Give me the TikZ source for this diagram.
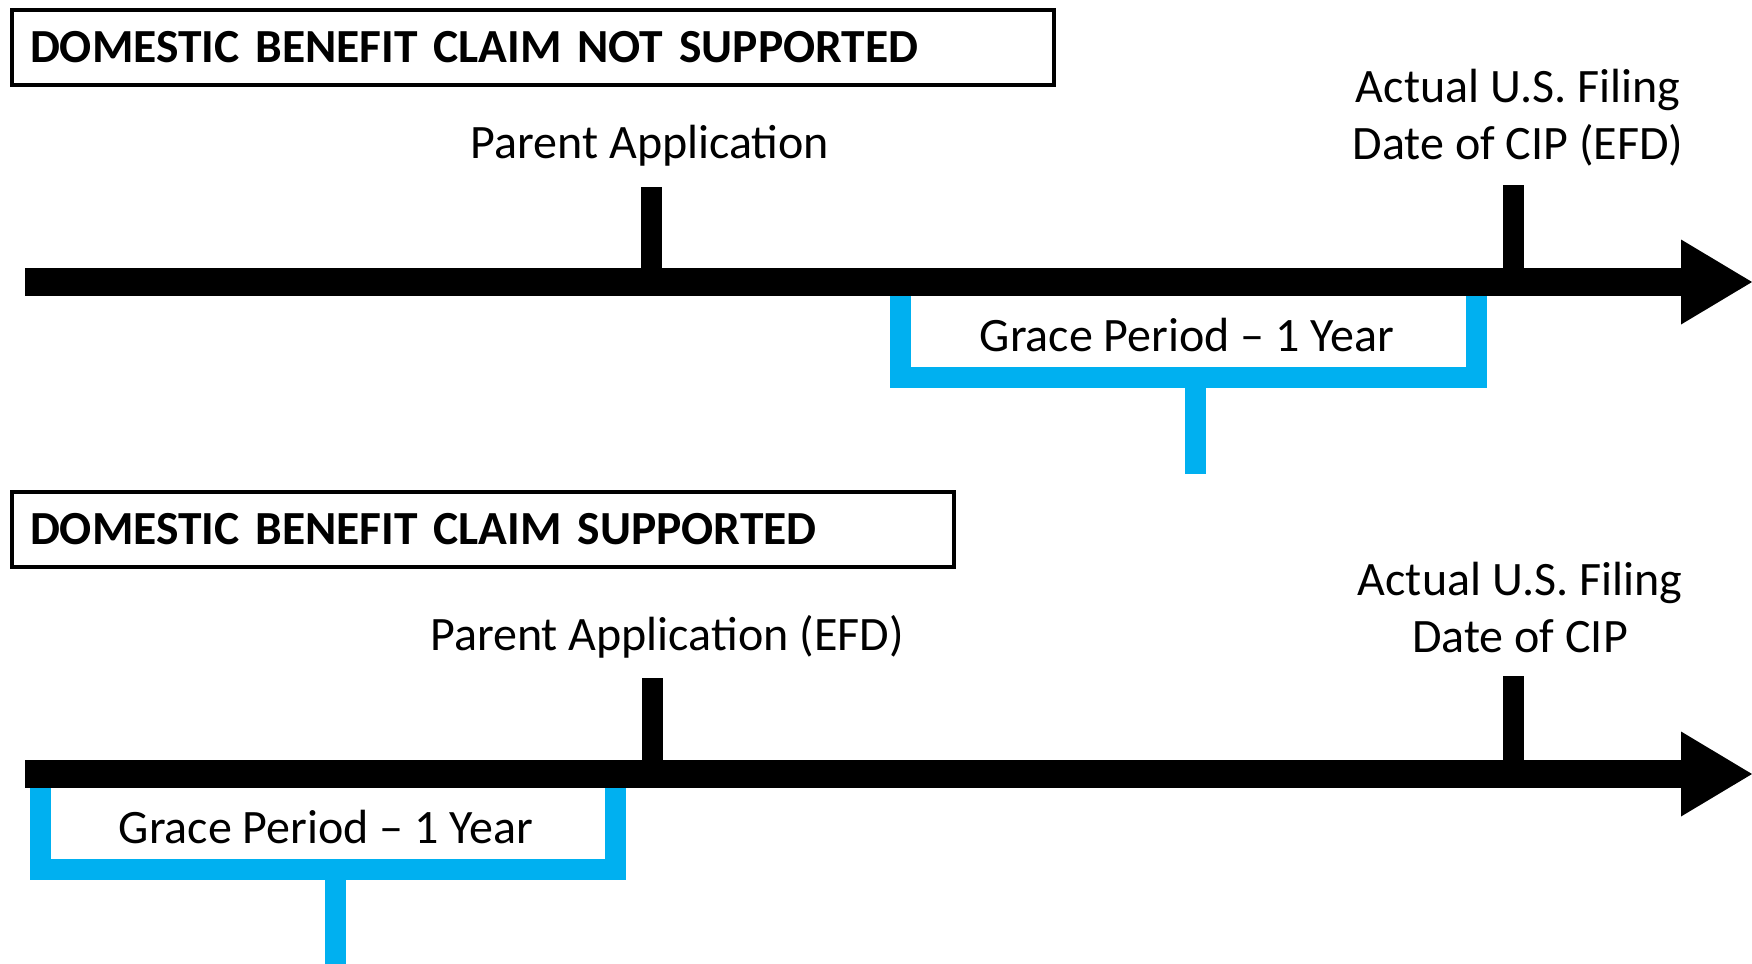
\documentclass[tikz,border=0pt]{standalone}
\usepackage{fontspec}
\setmainfont{Carlito}
\newfontfamily\titlefont{Carlito}[WordSpace=0.75]
\definecolor{grace}{HTML}{00B0F0}
\tikzset{
  titlebox/.style={draw, line width=4pt, inner xsep=18pt, inner ysep=0pt,
    minimum height=75pt, anchor=north west, align=left,
    font=\titlefont\fontsize{47.5}{58}\selectfont\bfseries},
  tltext/.style={inner sep=0pt, align=center, font=\fontsize{48}{57}\selectfont},
  shaft/.style={line width=28pt},
  tickmark/.style={line width=21pt},
  bracket/.style={draw=grace, line width=21pt, line join=miter},
  arrowhead/.style={fill=black}
}
\begin{document}
\begin{tikzpicture}[x=1pt,y=-1pt]
\useasboundingbox (0,0) rectangle (1752,963);

% ---------- panel 1: domestic benefit claim not supported ----------
\node[titlebox, text width=1006pt] (title1) at (10,8) {DOMESTIC BENEFIT CLAIM NOT SUPPORTED};

\coordinate (a1) at (25,282);
\coordinate (h1) at (1681,282);
\coordinate (p1) at (651,282);   \coordinate (p1top) at (651,187);
\coordinate (c1) at (1513,282);  \coordinate (c1top) at (1513,185);

% grace period bracket (drawn first so the timeline covers its ends)
\coordinate (g1l) at (900,290);  \coordinate (g1r) at (1476,290);
\coordinate (g1m) at (1195,377.5); \coordinate (g1s) at (1195,474);
\draw[bracket] (g1l) -- (g1l |- g1m) -- (g1r |- g1m) -- (g1r);
\draw[bracket] (g1m) -- (g1s);

\draw[shaft] (a1) -- (h1);
\fill[arrowhead] (1681,239.5) -- (1752,282) -- (1681,324.5) -- cycle;
\draw[tickmark] (p1top) -- (p1);
\draw[tickmark] (c1top) -- (c1);

\node[tltext, anchor=base] (parent1) at (650,158) {Parent Application};
\node[tltext] (cip1) at (1518,118) {Actual U.S. Filing\\Date of CIP (EFD)};
\node[tltext, anchor=base] (grace1) at (1187,351) {Grace Period -- 1 Year};

% ---------- panel 2: domestic benefit claim supported ----------
\node[titlebox, text width=906pt] (title2) at (10,490) {DOMESTIC BENEFIT CLAIM SUPPORTED};

\coordinate (a2) at (25,774);
\coordinate (h2) at (1681,774);
\coordinate (p2) at (652,774);   \coordinate (p2top) at (652,678);
\coordinate (c2) at (1513,774);  \coordinate (c2top) at (1513,676);

\coordinate (g2l) at (40,782);   \coordinate (g2r) at (615,782);
\coordinate (g2m) at (335,869);  \coordinate (g2s) at (335,975);
\draw[bracket] (g2l) -- (g2l |- g2m) -- (g2r |- g2m) -- (g2r);
\draw[bracket] (g2m) -- (g2s);

\draw[shaft] (a2) -- (h2);
\fill[arrowhead] (1681,731.5) -- (1752,774) -- (1681,816.5) -- cycle;
\draw[tickmark] (p2top) -- (p2);
\draw[tickmark] (c2top) -- (c2);

\node[tltext, anchor=base] (parent2) at (667,650) {Parent Application (EFD)};
\node[tltext] (cip2) at (1520,608) {Actual U.S. Filing\\Date of CIP};
\node[tltext, anchor=base] (grace2) at (326,843) {Grace Period -- 1 Year};
\end{tikzpicture}
\end{document}
